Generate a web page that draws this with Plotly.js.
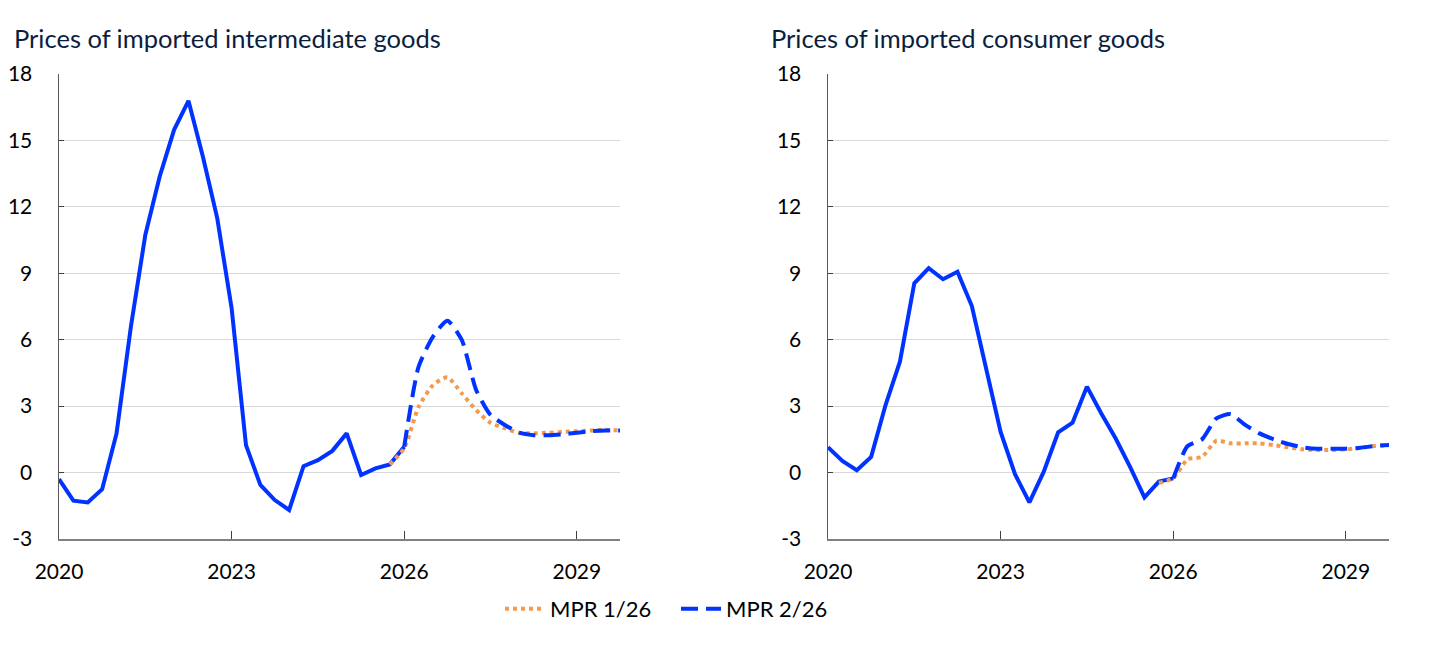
<!DOCTYPE html>
<html>
<head>
<meta charset="utf-8">
<script src="https://cdn.plot.ly/plotly-3.0.1.min.js"></script>
<style>html,body{margin:0;padding:0;background:#fff;}#chart{width:1445px;height:647px;}</style>
</head>
<body>
<div id="chart"></div>
<script>
// Quarterly dates as decimal years
const histQuarters = ["2020Q1","2020Q2","2020Q3","2020Q4","2021Q1","2021Q2","2021Q3","2021Q4","2022Q1","2022Q2","2022Q3","2022Q4","2023Q1","2023Q2","2023Q3","2023Q4","2024Q1","2024Q2","2024Q3","2024Q4","2025Q1","2025Q2","2025Q3","2025Q4","2026Q1"];
const mpr2Quarters = ["2026Q1","2026Q2","2026Q3","2026Q4","2027Q1","2027Q2","2027Q3","2027Q4","2028Q1","2028Q2","2028Q3","2028Q4","2029Q1","2029Q2","2029Q3","2029Q4"];
const mpr1Quarters = ["2025Q4","2026Q1","2026Q2","2026Q3","2026Q4","2027Q1","2027Q2","2027Q3","2027Q4","2028Q1","2028Q2","2028Q3","2028Q4","2029Q1","2029Q2","2029Q3","2029Q4"];

// Prices of imported intermediate goods
const interHist = [-0.3,-1.27,-1.35,-0.75,1.77,6.6,10.73,13.37,15.48,16.79,14.27,11.49,7.42,1.24,-0.56,-1.24,-1.69,0.29,0.56,0.98,1.77,-0.11,0.19,0.37,1.17];
const interMPR2 = [1.17,4.78,6.14,6.86,5.99,3.73,2.6,2.15,1.8,1.69,1.69,1.73,1.8,1.87,1.9,1.9];
const interMPR1 = [0.37,1.1,2.97,3.95,4.3,3.58,2.82,2.25,2.0,1.8,1.77,1.8,1.83,1.87,1.9,1.93,1.9];

// Prices of imported consumer goods
const consHist = [1.14,0.53,0.11,0.71,3.05,5.01,8.55,9.23,8.73,9.07,7.52,4.7,1.84,-0.07,-1.35,0.04,1.82,2.25,3.88,2.67,1.54,0.26,-1.12,-0.41,-0.26];
const consMPR2 = [-0.26,1.2,1.5,2.45,2.64,2.15,1.77,1.5,1.29,1.14,1.08,1.08,1.08,1.12,1.2,1.24];
const consMPR1 = [-0.46,-0.26,0.6,0.71,1.44,1.32,1.32,1.32,1.24,1.14,1.05,1.02,1.02,1.05,1.11,1.2,1.24];

const yTicks = [-3,0,3,6,9,12,15,18];
const xTicks = [2020,2023,2026,2029];
const titles = ["Prices of imported intermediate goods","Prices of imported consumer goods"];
const legendNames = ["MPR 1/26","MPR 2/26"];

function toYear(q){ return parseInt(q.slice(0,4)) + (parseInt(q.slice(5))-1)*0.25; }

const BLUE = "#0033ff", ORANGE = "#f39a4f";
const FONT = "Lato, 'Open Sans', sans-serif";

function panel(hist, m1, m2, xa, ya, showLeg){
  return [
    {x: histQuarters.map(toYear), y: hist, xaxis: xa, yaxis: ya, mode: "lines", showlegend: false,
     line: {color: BLUE, width: 4}, hoverinfo: "skip"},
    {x: mpr1Quarters.map(toYear), y: m1, xaxis: xa, yaxis: ya, mode: "lines", name: legendNames[0], showlegend: showLeg, legendrank: 1,
     line: {color: ORANGE, width: 4, dash: "dot", shape: "spline", smoothing: 0.6}},
    {x: mpr2Quarters.map(toYear), y: m2, xaxis: xa, yaxis: ya, mode: "lines", name: legendNames[1], showlegend: showLeg, legendrank: 2,
     line: {color: BLUE, width: 4, dash: "17px,8px", shape: "spline", smoothing: 0.6}}
  ];
}

const data = [].concat(
  panel(interHist, interMPR1, interMPR2, "x", "y", true),
  panel(consHist, consMPR1, consMPR2, "x2", "y2", false)
);

const W = 1445, H = 647;
function xAxis(d){
  return {domain: d, range: [2020, 2029.75], tickvals: xTicks, ticktext: xTicks.map(String),
    showgrid: false, zeroline: false, showline: true, linecolor: "#808080", linewidth: 1.5,
    ticks: "inside", ticklen: 8, tickcolor: "#404040", tickwidth: 1,
    ticklabelstandoff: 13, tickfont: {family: FONT, size: 21, color: "#000"}, fixedrange: true};
}
function yAxis(anchor){
  return {domain: [1-539/H, 1-74/H], range: [-3, 18], tickvals: yTicks, ticktext: yTicks.map(String), anchor: anchor,
    showgrid: true, gridcolor: "#d9d9d9", gridwidth: 1, zeroline: false,
    showline: true, linecolor: "#595959", linewidth: 1.5,
    ticks: "inside", ticklen: 5, tickcolor: "#404040",
    ticklabelstandoff: 21, tickfont: {family: FONT, size: 21, color: "#000"}, fixedrange: true};
}

const layout = {
  width: W, height: H,
  margin: {l: 0, r: 0, t: 0, b: 0},
  paper_bgcolor: "#fff", plot_bgcolor: "#fff",
  font: {family: FONT, color: "#000"},
  xaxis: Object.assign(xAxis([59/W, 620/W]), {anchor: "y"}),
  yaxis: yAxis("x"),
  xaxis2: Object.assign(xAxis([828/W, 1389/W]), {anchor: "y2"}),
  yaxis2: yAxis("x2"),
  showlegend: true,
  legend: {orientation: "h", x: 500/W, xanchor: "left", y: 1-609/H, yanchor: "middle",
    font: {family: FONT, size: 22, color: "#000"}, itemwidth: 40, entrywidth: 121, entrywidthmode: "pixels",
    tracegroupgap: 0, traceorder: "normal"},
  annotations: [
    {text: titles[0], xref: "paper", yref: "paper", x: 12/W, y: 1-38/H, xanchor: "left", yanchor: "middle",
     showarrow: false, font: {family: FONT, size: 25.5, color: "#0b1e3d"}},
    {text: titles[1], xref: "paper", yref: "paper", x: 769/W, y: 1-38/H, xanchor: "left", yanchor: "middle",
     showarrow: false, font: {family: FONT, size: 25.5, color: "#0b1e3d"}}
  ]
};

Plotly.newPlot("chart", data, layout, {displayModeBar: false, staticPlot: true});
</script>
</body>
</html>
